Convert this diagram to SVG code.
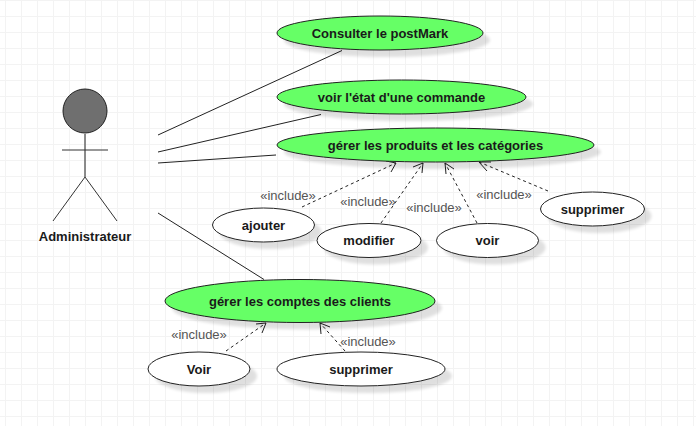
<svg xmlns="http://www.w3.org/2000/svg" width="696" height="426" viewBox="0 0 696 426">
<style>
text{font-family:"Liberation Sans",Arial,sans-serif;text-anchor:middle}
.n{font-size:13px;font-weight:bold;fill:#1a1a1a}
.inc{font-size:13px;fill:#555}
.u{fill:#66ff66;stroke:#222;stroke-width:1}
.w{fill:#fff;stroke:#222;stroke-width:1}
.s{fill:#000;opacity:.12;filter:url(#b)}
.a{fill:none;stroke:#222;stroke-width:1}
.d{fill:none;stroke:#222;stroke-width:1;stroke-dasharray:3 3}
.h{fill:none;stroke:#222;stroke-width:1}
</style>
<defs>
<pattern id="g" width="16" height="16" patternUnits="userSpaceOnUse" x="5" y="0">
<path d="M.5 0V16M0 .5H16" fill="none" stroke="#f3f3f3" stroke-width="1"/>
</pattern>
<filter id="b" x="-10%" y="-30%" width="120%" height="160%"><feGaussianBlur stdDeviation="1.7"/></filter>
</defs>
<rect width="696" height="426" fill="#fff"/>
<rect width="696" height="426" fill="url(#g)"/>
<g id="connectors">
<path class="a" d="M158 135L342 50.500"/>
<path class="a" d="M158 152L321 114.500"/>
<path class="a" d="M158 163L276 155"/>
<path class="a" d="M158 213L264 279.500"/>
<path class="d" d="M302 207L396 163"/><path class="h" d="M386 161L396 163L391 172"/>
<path class="d" d="M381 223L423 163"/><path class="h" d="M413 167L423 163L422 173"/>
<path class="d" d="M477 223L445 163"/><path class="h" d="M446 174L445 163L454 169"/>
<path class="d" d="M548 191L479 162"/><path class="h" d="M487 171L479 162L491 162"/>
<path class="d" d="M226 351L266 323"/><path class="h" d="M256 324L266 323L262 333"/>
<path class="d" d="M345 351L320 323"/><path class="h" d="M321 334L320 323L330 327"/>
</g>
<g id="labels">
<text class="inc" x="288" y="199.500">«include»</text>
<text class="inc" x="368" y="205.500">«include»</text>
<text class="inc" x="434" y="211.500">«include»</text>
<text class="inc" x="504" y="198.500">«include»</text>
<text class="inc" x="199" y="338.500">«include»</text>
<text class="inc" x="368" y="345.500">«include»</text>
</g>
<g id="actor">
<circle cx="85" cy="111" r="22" fill="#6f6f6f" stroke="#222"/>
<path d="M85 134V177" fill="none" stroke="#666" stroke-width="1.500"/>
<path d="M62 150H108M53 221L85 177L117 221" fill="none" stroke="#333"/>
<text class="n" x="85" y="240.500">Administrateur</text>
</g>
<g id="uc1"><ellipse class="s" cx="387" cy="40" rx="103" ry="17"/><ellipse class="u" cx="380" cy="33" rx="103" ry="17"/><text class="n" x="380" y="37.500">Consulter le postMark</text></g>
<g id="uc2"><ellipse class="s" cx="408.500" cy="104" rx="124.500" ry="17"/><ellipse class="u" cx="401.500" cy="97" rx="124.500" ry="17"/><text class="n" x="401.500" y="101.500">voir l'état d'une commande</text></g>
<g id="uc3"><ellipse class="s" cx="442.500" cy="152" rx="158.500" ry="17"/><ellipse class="u" cx="435.500" cy="145" rx="158.500" ry="17"/><text class="n" x="435.500" y="149.500">gérer les produits et les catégories</text></g>
<g id="uc4"><ellipse class="s" cx="270.500" cy="232" rx="51" ry="17"/><ellipse class="w" cx="263.500" cy="225" rx="51" ry="17"/><text class="n" x="263.500" y="229.500">ajouter</text></g>
<g id="uc5"><ellipse class="s" cx="376" cy="247.500" rx="52" ry="17"/><ellipse class="w" cx="369" cy="240.500" rx="52" ry="17"/><text class="n" x="369" y="245">modifier</text></g>
<g id="uc6"><ellipse class="s" cx="494.500" cy="247.500" rx="51" ry="17"/><ellipse class="w" cx="487.500" cy="240.500" rx="51" ry="17"/><text class="n" x="487.500" y="245">voir</text></g>
<g id="uc7"><ellipse class="s" cx="599.500" cy="216" rx="52" ry="17"/><ellipse class="w" cx="592.500" cy="209" rx="52" ry="17"/><text class="n" x="592.500" y="213.500">supprimer</text></g>
<g id="uc8"><ellipse class="s" cx="307" cy="308" rx="135" ry="21.500"/><ellipse class="u" cx="300" cy="301" rx="135" ry="21.500"/><text class="n" x="300" y="305.500">gérer les comptes des clients</text></g>
<g id="uc9"><ellipse class="s" cx="206" cy="376" rx="51" ry="17"/><ellipse class="w" cx="199" cy="369" rx="51" ry="17"/><text class="n" x="199" y="373.500">Voir</text></g>
<g id="uc10"><ellipse class="s" cx="368" cy="376" rx="84" ry="17"/><ellipse class="w" cx="361" cy="369" rx="84" ry="17"/><text class="n" x="361" y="373.500">supprimer</text></g>
</svg>
